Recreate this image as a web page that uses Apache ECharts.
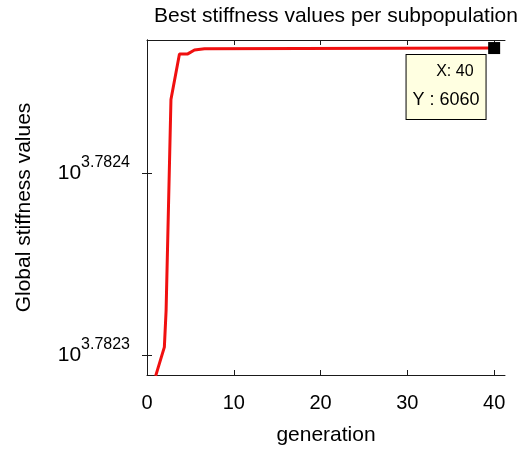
<!DOCTYPE html>
<html>
<head>
<meta charset="utf-8">
<script src="https://cdn.jsdelivr.net/npm/echarts@6/dist/echarts.min.js"></script>
<style>html,body{margin:0;padding:0;background:#fff}#c{width:530px;height:451px}</style>
</head>
<body>
<div id="c"></div>
<script>
// Data
const generations = [1.0, 2.0, 2.2, 2.76, 3.74, 4.7, 5.47, 6.62, 40];
const stiffness = [6057.43, 6057.65, 6057.93, 6059.55, 6059.90, 6059.90, 6059.93, 6059.94, 6059.945];
const xTicks = [0, 10, 20, 30, 40];
const yTickExponents = [3.7823, 3.7824];
const tipIndex = 8;

const FONT = 'Liberation Sans, Arial, Helvetica, sans-serif';
const lineData = generations.map((g, i) => [g, Math.log10(stiffness[i])]);
const yMin = 3.78228887, yMax = 3.78247311;
const xMin = 0, xMax = 41.25;
const tipX = generations[tipIndex], tipY = stiffness[tipIndex];

const chart = echarts.init(document.getElementById('c'), null, {renderer: 'canvas'});
const axisLine = {show: true, lineStyle: {color: '#1a1a1a', width: 1}};
chart.setOption({
  animation: false,
  backgroundColor: '#fff',
  title: {
    text: 'Best stiffness values per subpopulation',
    left: 331, top: 1, textAlign: 'center',
    textStyle: {fontFamily: FONT, fontSize: 21, fontWeight: 'normal', color: '#000'}
  },
  grid: {left: 147, right: 25, top: 40, bottom: 73, containLabel: false},
  xAxis: [{
    type: 'value', min: xMin, max: xMax, position: 'bottom',
    name: 'generation', nameLocation: 'middle', nameGap: 50,
    nameTextStyle: {fontFamily: FONT, fontSize: 21, color: '#000'},
    axisLine: axisLine,
    axisTick: {show: true, inside: true, length: 5, customValues: xTicks, lineStyle: {color: '#1a1a1a'}},
    axisLabel: {show: true, customValues: xTicks, margin: 18, fontFamily: FONT, fontSize: 20, color: '#000'},
    splitLine: {show: false}
  }, {
    type: 'value', min: xMin, max: xMax, position: 'top',
    axisLine: axisLine,
    axisTick: {show: true, inside: true, length: 5, customValues: xTicks, lineStyle: {color: '#1a1a1a'}},
    axisLabel: {show: false}, splitLine: {show: false}
  }],
  yAxis: [{
    type: 'value', min: yMin, max: yMax, position: 'left',
    name: 'Global stiffness values', nameLocation: 'middle', nameGap: 112,
    nameTextStyle: {fontFamily: FONT, fontSize: 21, color: '#000'},
    axisLine: axisLine,
    axisTick: {show: true, inside: true, length: 5, customValues: yTickExponents, lineStyle: {color: '#1a1a1a'}},
    axisLabel: {
      show: true, customValues: yTickExponents, margin: 17,
      formatter: v => '{b|10}{s|' + v.toFixed(4) + '}',
      rich: {
        b: {fontFamily: FONT, fontSize: 21, color: '#000'},
        s: {fontFamily: FONT, fontSize: 16, color: '#000', padding: [0, 0, 20, 0]}
      }
    },
    splitLine: {show: false}
  }, {
    type: 'value', min: yMin, max: yMax, position: 'right',
    axisLine: axisLine,
    axisTick: {show: true, inside: true, length: 5, customValues: yTickExponents, lineStyle: {color: '#1a1a1a'}},
    axisLabel: {show: false}, splitLine: {show: false}
  }],
  series: [{
    type: 'line', data: lineData, showSymbol: false, symbol: 'none',
    lineStyle: {color: '#f01010', width: 3}, clip: true, z: 2
  }, {
    type: 'scatter',
    data: [[tipX, Math.log10(tipY)]],
    symbol: 'rect', symbolSize: 12,
    itemStyle: {color: '#000', opacity: 1}, z: 5,
    label: {
      show: true,
      position: [-81.6, 13],
      formatter: () => '{x|X: ' + tipX + '}\n{y|Y : ' + Math.round(tipY) + '}',
      backgroundColor: '#ffffe1', borderColor: '#000', borderWidth: 1,
      width: 79, padding: [3, 0, 5, 0],
      rich: {
        x: {fontFamily: FONT, fontSize: 16, color: '#000', align: 'right', padding: [0, 12, 0, 0], lineHeight: 28},
        y: {fontFamily: FONT, fontSize: 18, color: '#000', align: 'right', padding: [0, 6, 0, 0], lineHeight: 28}
      }
    }
  }]
});
</script>
</body>
</html>
